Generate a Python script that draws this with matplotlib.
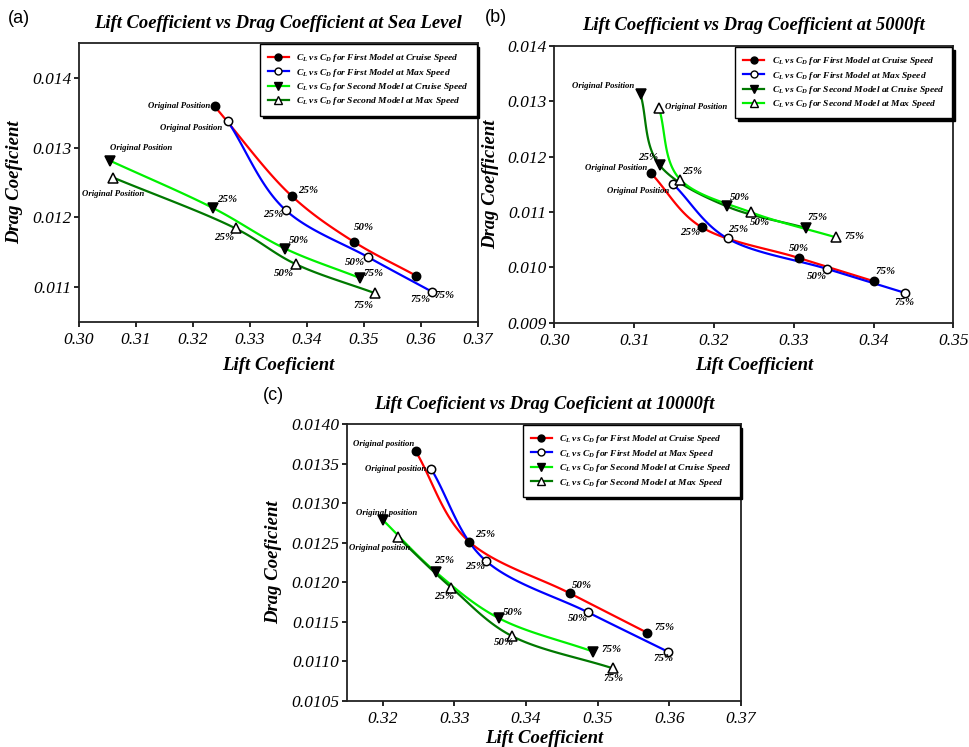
import numpy as np
import matplotlib
matplotlib.use("Agg")
import matplotlib.pyplot as plt
from matplotlib.lines import Line2D
from matplotlib.ticker import FormatStrFormatter

plt.rcParams["font.family"] = ["Liberation Serif", "DejaVu Serif"]
plt.rcParams["mathtext.fontset"] = "custom"
plt.rcParams["mathtext.it"] = "Liberation Serif:bold:italic"
plt.rcParams["mathtext.rm"] = "Liberation Serif:bold:italic"
plt.rcParams["mathtext.bf"] = "Liberation Serif:bold:italic"

stages = ["Original Position", "25%", "50%", "75%"]
stages_c = ["Original position", "25%", "50%", "75%"]

# Sea level
sea_cl_first_cruise = [0.3238, 0.3374, 0.3482, 0.3592]
sea_cd_first_cruise = [0.01359, 0.01230, 0.01165, 0.01116]
sea_cl_first_max = [0.3261, 0.3363, 0.3507, 0.3620]
sea_cd_first_max = [0.01338, 0.01210, 0.01143, 0.01093]
sea_cl_second_cruise = [0.3055, 0.3236, 0.3362, 0.3493]
sea_cd_second_cruise = [0.01281, 0.01213, 0.01155, 0.01113]
sea_cl_second_max = [0.3060, 0.3275, 0.3380, 0.3520]
sea_cd_second_max = [0.01257, 0.01184, 0.01133, 0.01091]

# 5000 ft
k5_cl_first_cruise = [0.3121, 0.3185, 0.3306, 0.3400]
k5_cd_first_cruise = [0.01170, 0.01072, 0.01017, 0.00975]
k5_cl_first_max = [0.3149, 0.3217, 0.3342, 0.3439]
k5_cd_first_max = [0.01150, 0.01052, 0.00997, 0.00954]
k5_cl_second_cruise = [0.3108, 0.3132, 0.3216, 0.3315]
k5_cd_second_cruise = [0.01312, 0.01184, 0.01110, 0.01071]
k5_cl_second_max = [0.3131, 0.3158, 0.3247, 0.3353]
k5_cd_second_max = [0.01288, 0.01158, 0.01099, 0.01054]

# 10000 ft
k10_cl_first_cruise = [0.3246, 0.3321, 0.3461, 0.3569]
k10_cd_first_cruise = [0.01366, 0.01251, 0.01186, 0.01136]
k10_cl_first_max = [0.3268, 0.3344, 0.3486, 0.3598]
k10_cd_first_max = [0.01343, 0.01227, 0.01162, 0.01112]
k10_cl_second_cruise = [0.3200, 0.3274, 0.3363, 0.3494]
k10_cd_second_cruise = [0.01279, 0.01213, 0.01154, 0.01112]
k10_cl_second_max = [0.3221, 0.3296, 0.3380, 0.3521]
k10_cd_second_max = [0.01257, 0.01193, 0.01132, 0.01091]

RED, BLUE, LIME, DKGREEN = "#ff0000", "#0000ff", "#00f000", "#007800"

LEG = [r"$C_L$ vs $C_D$ for First Model at Cruise Speed",
       r"$C_L$ vs $C_D$ for First Model at Max Speed",
       r"$C_L$ vs $C_D$ for Second Model at Cruise Speed",
       r"$C_L$ vs $C_D$ for Second Model at Max Speed"]


def smooth(xs, ys, xlim, ylim, n=40):
    # centripetal Catmull-Rom through the points, in axis-normalised units
    sx, sy = xlim[1] - xlim[0], ylim[1] - ylim[0]
    P = np.column_stack([(np.asarray(xs) - xlim[0]) / sx, (np.asarray(ys) - ylim[0]) / sy])
    P = np.vstack([2 * P[0] - P[1], P, 2 * P[-1] - P[-2]])
    out = []
    for i in range(1, len(P) - 2):
        p0, p1, p2, p3 = P[i - 1:i + 3]
        t0 = 0.0
        t1 = t0 + np.linalg.norm(p1 - p0) ** 0.5
        t2 = t1 + np.linalg.norm(p2 - p1) ** 0.5
        t3 = t2 + np.linalg.norm(p3 - p2) ** 0.5
        t = np.linspace(t1, t2, n)[:, None]
        a1 = (t1 - t) / (t1 - t0) * p0 + (t - t0) / (t1 - t0) * p1
        a2 = (t2 - t) / (t2 - t1) * p1 + (t - t1) / (t2 - t1) * p2
        a3 = (t3 - t) / (t3 - t2) * p2 + (t - t2) / (t3 - t2) * p3
        b1 = (t2 - t) / (t2 - t0) * a1 + (t - t0) / (t2 - t0) * a2
        b2 = (t3 - t) / (t3 - t1) * a2 + (t - t1) / (t3 - t1) * a3
        c = (t2 - t) / (t2 - t1) * b1 + (t - t1) / (t2 - t1) * b2
        out.append(c)
    pts = np.vstack(out)
    return pts[:, 0] * sx + xlim[0], pts[:, 1] * sy + ylim[0]


def draw_series(ax, cl, cd, color, marker, filled, labels, offsets, xlim, ylim):
    sx, sy = smooth(cl, cd, xlim, ylim)
    ax.plot(sx, sy, color=color, lw=1.6, zorder=2)
    ax.plot(cl, cd, ls="none", marker=marker, ms=6 if marker == "o" else 6.5,
            mfc="black" if filled else "white", mec="black", mew=1.1, zorder=3)
    for x, y, lab, (dx, dy, ha) in zip(cl, cd, labels, offsets):
        small = lab.startswith("Original")
        ax.annotate(lab, (x, y), xytext=(dx, dy), textcoords="offset pixels",
                    ha=ha, va="center", fontsize=6.3 if small else 7.8,
                    fontweight="bold", fontstyle="italic", zorder=4)


def style_axes(ax, title, xlabel, ylabel, xlim, ylim, xticks, yticks, yfmt, xpad=6):
    ax.set_xlim(*xlim)
    ax.set_ylim(*ylim)
    ax.set_xticks(xticks)
    ax.set_yticks(yticks)
    ax.xaxis.set_major_formatter(FormatStrFormatter("%.2f"))
    ax.yaxis.set_major_formatter(FormatStrFormatter(yfmt))
    ax.tick_params(direction="out", length=3.5, width=1.2, pad=2, labelsize=12.5)
    ax.tick_params(axis="x", pad=4)
    for lab in ax.get_xticklabels() + ax.get_yticklabels():
        lab.set_fontstyle("italic")
    for sp in ax.spines.values():
        sp.set_linewidth(1.3)
        sp.set_color("#222222")
    ax.set_title(title, fontsize=13.4, fontweight="bold", fontstyle="italic", pad=11)
    ax.set_xlabel(xlabel, fontsize=13.5, fontweight="bold", fontstyle="italic", labelpad=xpad)
    ax.set_ylabel(ylabel, fontsize=13.5, fontweight="bold", fontstyle="italic", labelpad=6)


def add_legend(ax, colors):
    handles = [
        Line2D([], [], color=colors[0], lw=1.6, marker="o", mfc="black", mec="black", ms=5),
        Line2D([], [], color=colors[1], lw=1.6, marker="o", mfc="white", mec="black", ms=5),
        Line2D([], [], color=colors[2], lw=1.6, marker="v", mfc="black", mec="black", ms=5.5),
        Line2D([], [], color=colors[3], lw=1.6, marker="^", mfc="white", mec="black", ms=5.5),
    ]
    leg = ax.legend(handles, LEG, loc="upper right", fontsize=6.8, frameon=True,
                    fancybox=False, edgecolor="black", handlelength=2.2,
                    borderaxespad=0.15, labelspacing=0.25, borderpad=0.85,
                    shadow={"color": "black", "alpha": 1.0})
    leg.get_frame().set_linewidth(1.0)
    for t in leg.get_texts():
        t.set_fontweight("bold")
        t.set_fontstyle("italic")


fig = plt.figure(figsize=(9.7, 7.47), dpi=100)
ax_a = fig.add_axes([0.0814, 0.569, 0.4114, 0.3735])
ax_b = fig.add_axes([0.5716, 0.568, 0.4112, 0.3708])
ax_c = fig.add_axes([0.3574, 0.062, 0.4065, 0.3704])

# (a) sea level
xa, ya = (0.30, 0.37), (0.0105, 0.0145)
draw_series(ax_a, sea_cl_first_cruise, sea_cd_first_cruise, RED, "o", True, stages,
            [(-4, 0, "right"), (6, 6, "left"), (0, 14, "left"), (18, -20, "left")], xa, ya)
draw_series(ax_a, sea_cl_first_max, sea_cd_first_max, BLUE, "o", False, stages,
            [(-5, -7, "right"), (-3, -4, "right"), (-3, -5, "right"), (-2, -8, "right")], xa, ya)
draw_series(ax_a, sea_cl_second_cruise, sea_cd_second_cruise, LIME, "v", True, stages,
            [(0, 13, "left"), (4, 9, "left"), (4, 8, "left"), (4, 5, "left")], xa, ya)
draw_series(ax_a, sea_cl_second_max, sea_cd_second_max, DKGREEN, "^", False, stages,
            [(0, -16, "center"), (-2, -9, "right"), (-2, -9, "right"), (-2, -12, "right")], xa, ya)
style_axes(ax_a, "Lift Coefficient vs Drag Coefficient at Sea Level", "Lift Coeficient",
           "Drag Coeficient", xa, ya, np.arange(0.30, 0.3701, 0.01),
           [0.011, 0.012, 0.013, 0.014], "%.3f")
add_legend(ax_a, [RED, BLUE, LIME, DKGREEN])

# (b) 5000 ft
xb, yb = (0.30, 0.35), (0.009, 0.014)
draw_series(ax_b, k5_cl_first_cruise, k5_cd_first_cruise, RED, "o", True, stages,
            [(-4, 5, "right"), (-2, -5, "right"), (0, 9, "center"), (2, 10, "left")], xb, yb)
draw_series(ax_b, k5_cl_first_max, k5_cd_first_max, BLUE, "o", False, stages,
            [(-4, -7, "right"), (1, 9, "left"), (0, -8, "right"), (0, -10, "center")], xb, yb)
draw_series(ax_b, k5_cl_second_cruise, k5_cd_second_cruise, DKGREEN, "v", True, stages,
            [(-6, 8, "right"), (-2, 8, "right"), (3, 9, "left"), (2, 10, "left")], xb, yb)
draw_series(ax_b, k5_cl_second_max, k5_cd_second_max, LIME, "^", False, stages,
            [(6, 1, "left"), (2, 8, "left"), (-2, -10, "left"), (8, 1, "left")], xb, yb)
style_axes(ax_b, "Lift Coefficient vs Drag Coefficient at 5000ft", "Lift Coefficient",
           "Drag Coefficient", xb, yb, np.arange(0.30, 0.3501, 0.01),
           [0.009, 0.010, 0.011, 0.012, 0.013, 0.014], "%.3f")
add_legend(ax_b, [RED, BLUE, DKGREEN, LIME])

# (c) 10000 ft
xc, yc = (0.315, 0.37), (0.0105, 0.0140)
draw_series(ax_c, k10_cl_first_cruise, k10_cd_first_cruise, RED, "o", True, stages_c,
            [(-1, 7, "right"), (6, 7, "left"), (2, 8, "left"), (7, 5, "left")], xc, yc)
draw_series(ax_c, k10_cl_first_max, k10_cd_first_max, BLUE, "o", False, stages_c,
            [(-5, 0, "right"), (-1, -6, "right"), (0, -6, "right"), (-4, -7, "center")], xc, yc)
draw_series(ax_c, k10_cl_second_cruise, k10_cd_second_cruise, LIME, "v", True, stages_c,
            [(4, 7, "center"), (-1, 11, "left"), (3, 6, "left"), (8, 2, "left")], xc, yc)
draw_series(ax_c, k10_cl_second_max, k10_cd_second_max, DKGREEN, "^", False, stages_c,
            [(-18, -11, "center"), (3, -9, "right"), (2, -7, "right"), (1, -10, "center")], xc, yc)
style_axes(ax_c, "Lift Coeficient vs Drag Coeficient at 10000ft", "Lift Coefficient",
           "Drag Coeficient", xc, yc, np.arange(0.32, 0.3701, 0.01),
           np.arange(0.0105, 0.01401, 0.0005), "%.4f", xpad=2)
add_legend(ax_c, [RED, BLUE, LIME, DKGREEN])

fig.text(0.008, 0.975, "(a)", fontsize=13, family="Liberation Sans", va="center")
fig.text(0.500, 0.977, "(b)", fontsize=13, family="Liberation Sans", va="center")
fig.text(0.271, 0.471, "(c)", fontsize=13, family="Liberation Sans", va="center")

fig.savefig("out.png", dpi=100)
